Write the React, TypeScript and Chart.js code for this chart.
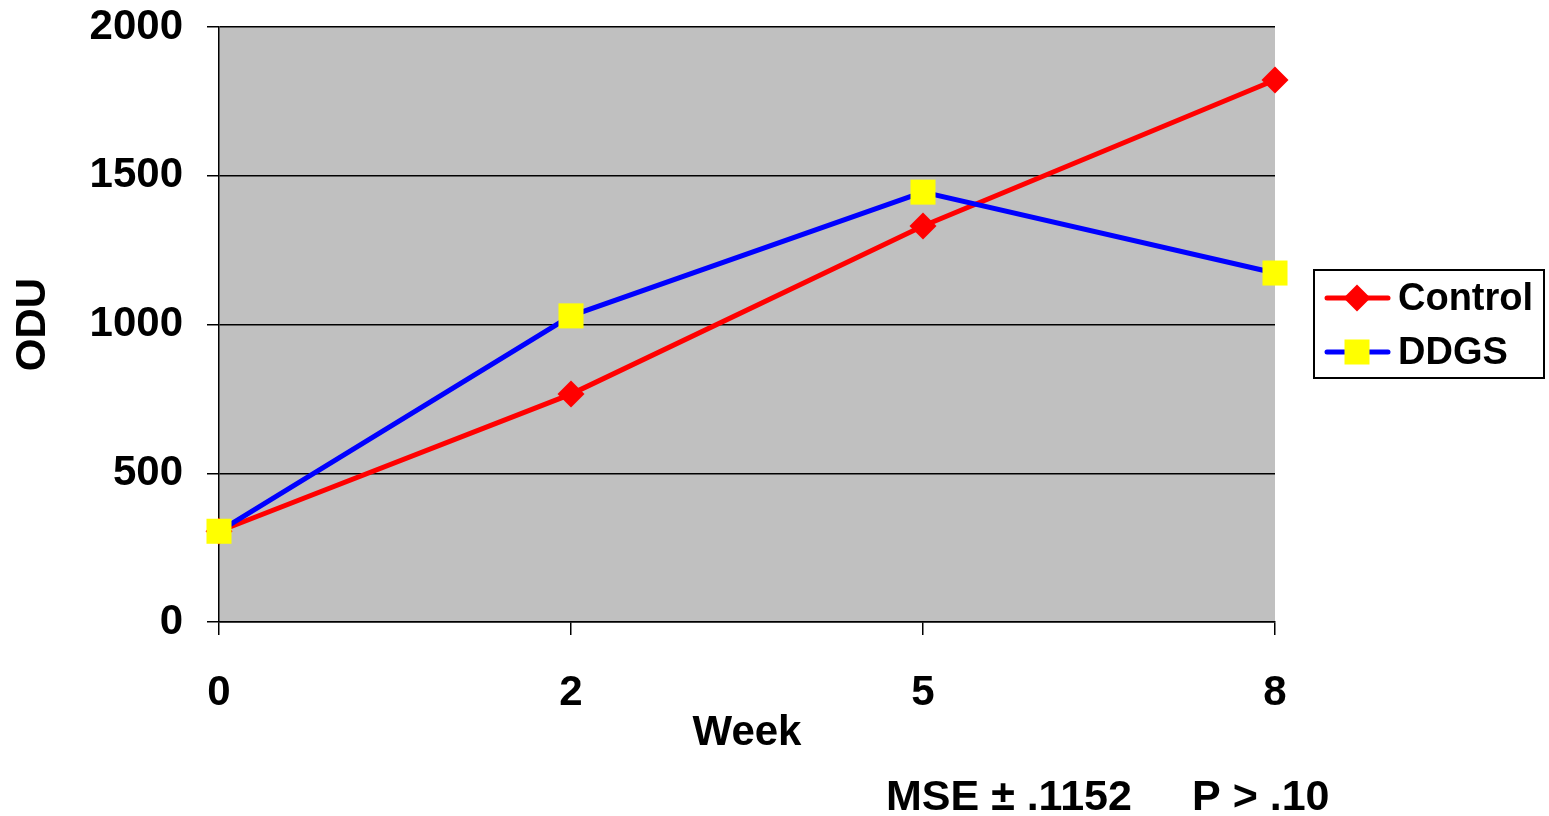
import React, { useEffect, useRef } from "react";
import { Chart, registerables } from "chart.js";

Chart.register(...registerables);

const weeks = ["0", "2", "5", "8"];
const controlValues = [305, 766, 1331, 1822];
const ddgsValues = [305, 1029, 1445, 1173];
const yTicks = [0, 500, 1000, 1500, 2000];
const seriesNames = ["Control", "DDGS"];
const yTitle = "ODU";
const xTitle = "Week";
const noteLeft = "MSE ± .1152";
const noteRight = "P > .10";

const FONT = "'Liberation Sans', Arial, sans-serif";

const plotBg = {
  id: "plotBg",
  beforeDraw(chart: any) {
    const { ctx, chartArea } = chart;
    ctx.save();
    ctx.fillStyle = "#C0C0C0";
    ctx.fillRect(chartArea.left, chartArea.top, chartArea.right - chartArea.left, chartArea.bottom - chartArea.top);
    ctx.restore();
  },
};

const extras = {
  id: "extras",
  afterDraw(chart: any) {
    const { ctx } = chart;
    ctx.save();
    // legend box
    const bx = 1314, by = 270, bw = 230, bh = 108;
    ctx.fillStyle = "#FFFFFF";
    ctx.fillRect(bx, by, bw, bh);
    ctx.strokeStyle = "#000000";
    ctx.lineWidth = 2;
    ctx.strokeRect(bx, by, bw, bh);
    const rows = [298, 352];
    chart.data.datasets.forEach((ds: any, i: number) => {
      const y = rows[i];
      ctx.strokeStyle = ds.borderColor;
      ctx.lineWidth = 5;
      ctx.lineCap = "round";
      ctx.beginPath();
      ctx.moveTo(1327, y);
      ctx.lineTo(1388, y);
      ctx.stroke();
      ctx.fillStyle = ds.pointBackgroundColor;
      if (ds.pointStyle === "rectRot") {
        const r = 13.5;
        ctx.beginPath();
        ctx.moveTo(1357, y - r);
        ctx.lineTo(1357 + r, y);
        ctx.lineTo(1357, y + r);
        ctx.lineTo(1357 - r, y);
        ctx.closePath();
        ctx.fill();
      } else {
        ctx.fillRect(1357 - 12.5, y - 12.5, 25, 25);
      }
      ctx.fillStyle = "#000000";
      ctx.font = `bold 38px ${FONT}`;
      ctx.textAlign = "left";
      ctx.textBaseline = "middle";
      ctx.fillText(ds.label, 1398, y + 2);
    });
    // note
    ctx.fillStyle = "#000000";
    ctx.font = `bold 43px ${FONT}`;
    ctx.textAlign = "left";
    ctx.textBaseline = "alphabetic";
    ctx.fillText(noteLeft, 886, 810);
    ctx.fillText(noteRight, 1192, 810);
    ctx.restore();
  },
};

export default function App() {
  const ref = useRef<HTMLCanvasElement>(null);
  useEffect(() => {
    if (!ref.current) return;
    const chart = new Chart(ref.current, {
      type: "line",
      data: {
        labels: weeks,
        datasets: [
          {
            label: seriesNames[0],
            data: controlValues,
            borderColor: "#FF0000",
            backgroundColor: "#FF0000",
            pointBackgroundColor: "#FF0000",
            pointBorderWidth: 0,
            pointStyle: "rectRot",
            pointRadius: 13.5,
            borderWidth: 5,
            tension: 0,
            clip: false as any,
            order: 1,
          },
          {
            label: seriesNames[1],
            data: ddgsValues,
            borderColor: "#0000FF",
            backgroundColor: "#FFFF00",
            pointBackgroundColor: "#FFFF00",
            pointBorderWidth: 0,
            pointStyle: "rect",
            pointRadius: 17.7,
            borderWidth: 5,
            tension: 0,
            clip: false as any,
            order: 0,
          },
        ],
      },
      options: {
        responsive: true,
        maintainAspectRatio: false,
        animation: false,
        layout: { padding: { top: 27, right: 274, left: 0, bottom: 0 } },
        plugins: { legend: { display: false }, tooltip: { enabled: false } },
        scales: {
          x: {
            type: "category",
            offset: false,
            grid: { drawOnChartArea: false, drawTicks: true, tickLength: 13, color: "#000000", lineWidth: 1.5 },
            border: { display: true, color: "#000000", width: 1.5 },
            ticks: { color: "#000000", font: { family: FONT, size: 42, weight: "bold" }, padding: 33, maxRotation: 0 },
            title: { display: true, text: xTitle, color: "#000000", font: { family: FONT, size: 42, weight: "bold" }, padding: { top: 0, bottom: 57 } },
            afterFit(scale: any) { scale.height = 194; scale.paddingLeft = 0; scale.paddingRight = 0; },
          },
          y: {
            min: 0,
            max: 2000,
            afterBuildTicks(scale: any) { scale.ticks = yTicks.map((v) => ({ value: v })); },
            grid: { drawOnChartArea: true, drawTicks: true, tickLength: 12, color: "#000000", lineWidth: 1.5 },
            border: { display: true, color: "#000000", width: 1.5 },
            ticks: { color: "#000000", font: { family: FONT, size: 42, weight: "bold" }, padding: 24, callback: (v: any) => String(v) },
            title: { display: true, text: yTitle, color: "#000000", font: { family: FONT, size: 42, weight: "bold" }, padding: { top: 8, bottom: 0 } },
            afterFit(scale: any) { scale.width = 219; scale.paddingTop = 0; scale.paddingBottom = 0; },
          },
        },
      },
      plugins: [plotBg, extras],
    });
    return () => chart.destroy();
  }, []);
  return (
    <div style={{ position: "fixed", left: 0, top: 0, width: 1549, height: 816, background: "#FFFFFF" }}>
      <canvas ref={ref} />
    </div>
  );
}
